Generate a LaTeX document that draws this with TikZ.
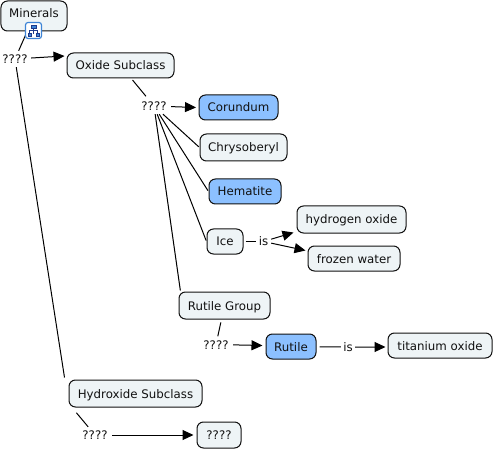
\documentclass[tikz,border=0pt]{standalone}
\usepackage{fontspec}
\setmainfont{DejaVu Sans}
\usetikzlibrary{arrows.meta}
\definecolor{cpale}{HTML}{EEF4F6}
\definecolor{cblue}{HTML}{8CC0FF}
\definecolor{cedge}{HTML}{111111}
\definecolor{cicon}{HTML}{3D84D6}
\definecolor{cglyph}{HTML}{1F3A8A}
\tikzset{
  x=1bp,y=-1bp,
  concept/.style={draw=cedge,line width=1bp,fill=cpale,rounded corners=6.5bp,inner sep=0pt,
    font=\fontsize{11.8bp}{13bp}\selectfont,text=cedge,text height=11bp,text depth=2bp},
  bluec/.style={concept,fill=cblue},
  linklabel/.style={inner sep=0pt,font=\fontsize{11.8bp}{13bp}\selectfont,text=cedge,
    text height=11bp,text depth=2bp,minimum height=16bp},
  link/.style={draw=black,line width=1bp},
  arrowlink/.style={link,-{Triangle[length=11bp,width=10bp]}},
  glyph/.style={fill=cicon,draw=cglyph,line width=0.7bp}
}
\begin{document}
\begin{tikzpicture}
\useasboundingbox (0,0) rectangle (493,449);
\fill[white] (0,0) rectangle (493,449);
% concepts
\node[concept,minimum width=66bp,minimum height=30bp,text height=10bp,text depth=6bp] (minerals) at (34,16) {Minerals};
\node[concept,minimum width=107bp,minimum height=25bp] (oxide) at (120.5,65.5) {Oxide Subclass};
\node[bluec,minimum width=79bp,minimum height=25bp] (corundum) at (238.5,107.5) {Corundum};
\node[concept,minimum width=87bp,minimum height=27bp] (chryso) at (243.5,147.5) {Chrysoberyl};
\node[bluec,minimum width=72bp,minimum height=25bp] (hematite) at (245,191.5) {Hematite};
\node[concept,minimum width=36bp,minimum height=25bp] (ice) at (225,241.5) {Ice};
\node[concept,minimum width=109bp,minimum height=27bp] (hydrogen) at (351.5,219.5) {hydrogen oxide};
\node[concept,minimum width=92bp,minimum height=25bp] (frozen) at (354,258.5) {frozen water};
\node[concept,minimum width=91bp,minimum height=27bp] (rgroup) at (224.5,305.5) {Rutile Group};
\node[bluec,minimum width=50bp,minimum height=25bp] (rutile) at (291,346.5) {Rutile};
\node[concept,minimum width=104bp,minimum height=25bp] (titanium) at (440,345.5) {titanium oxide};
\node[concept,minimum width=133bp,minimum height=27bp] (hydroxide) at (135.5,393.5) {Hydroxide Subclass};
\node[concept,minimum width=44bp,minimum height=26bp] (unknown) at (219,435) {????};
% linking phrases
\node[linklabel,minimum width=32bp] (l1) at (15,59) {????};
\node[linklabel,minimum width=34bp] (l2) at (154,106) {????};
\node[linklabel,minimum width=15bp] (l3) at (263.5,241.5) {is};
\node[linklabel,minimum width=34bp] (l4) at (216,344.5) {????};
\node[linklabel,minimum width=14bp] (l5) at (348,347) {is};
\node[linklabel,minimum width=34bp] (l6) at (95,435) {????};
% connectors
\draw[link] (minerals) -- (l1);
\draw[arrowlink] (l1) -- ([shift={(-2,-9.5)}]oxide.west);
\draw[link] (l1) -- ([shift={(-4,-2)}]hydroxide.north west);
\draw[link,shorten <=2bp,shorten >=2bp] (oxide) -- (l2);
\draw[arrowlink] (l2) -- ([xshift=-2.5bp]corundum.west);
\draw[link,shorten >=1bp] (l2) -- (chryso.west);
\draw[link,shorten >=1bp] (l2) -- (hematite.west);
\draw[link,shorten >=1bp] (l2) -- (ice.west);
\draw[link,shorten >=1bp] (l2) -- ([xshift=2bp]rgroup.north west);
\draw[link,shorten <=2bp] (ice) -- (l3);
\draw[arrowlink] (l3) -- ([shift={(-3,-1)}]hydrogen.south west);
\draw[arrowlink] (l3) -- ([shift={(-2,-8)}]frozen.west);
\draw[link,shorten <=3bp] (rgroup) -- (l4);
\draw[arrowlink] (l4) -- ([shift={(-3,-1)}]rutile.west);
\draw[link,shorten <=3bp] (rutile) -- (l5);
\draw[arrowlink] (l5) -- ([shift={(-2,1.5)}]titanium.west);
\draw[link,shorten <=3bp] ([shift={(6,3)}]hydroxide.south west) -- (l6);
\draw[arrowlink] (l6) -- ([xshift=-3bp]unknown.west);
% icon on the Minerals concept
\node[draw=cicon,fill=white,line width=1.2bp,rounded corners=2.5bp,minimum size=16bp,inner sep=0pt] (icon) at (33.5,30.5) {};
\draw[cglyph,line width=0.7bp] (33.5,28) -- (33.5,34) (29.5,33) -- (29.5,30.5) -- (37.5,30.5) -- (37.5,33);
\draw[glyph] (31,25) rectangle (36,28);
\draw[glyph] (28,33) rectangle (31,36.5);
\draw[glyph] (36,33) rectangle (39,36.5);
\end{tikzpicture}
\end{document}
